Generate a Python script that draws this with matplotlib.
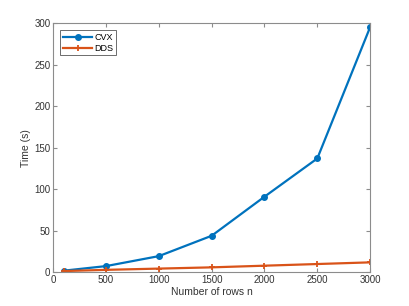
import numpy as np
import matplotlib.pyplot as plt

plt.rcParams['font.family'] = ['Liberation Sans', 'DejaVu Sans']

n_rows = [100, 500, 1000, 1500, 2000, 2500, 3000]
cvx_time = [2, 7.5, 19.5, 44, 91, 137, 295]
dds_time = [1.5, 3, 4.5, 6, 8, 10, 12]

fig = plt.figure(figsize=(4.09, 3.06), dpi=100)
ax = fig.add_axes([0.13, 0.11, 0.775, 0.815])

ax.plot(n_rows, cvx_time, '-o', color='#0072BD', lw=1.6, ms=4, label='CVX')
ax.plot(n_rows, dds_time, '-+', color='#D95319', lw=1.6, ms=5, mew=1.3, label='DDS')

ax.set_xlim(0, 3000)
ax.set_ylim(0, 300)
ax.set_xticks([0, 500, 1000, 1500, 2000, 2500, 3000])
ax.set_yticks([0, 50, 100, 150, 200, 250, 300])
ax.set_xlabel('Number of rows n', fontsize=7.5, color='#333333', labelpad=1)
ax.set_ylabel('Time (s)', fontsize=7.5, color='#333333', labelpad=2)
ax.tick_params(direction='in', length=3, width=0.8, colors='#8c8c8c',
               labelcolor='#333333', labelsize=7, top=True, right=True, pad=2)
for s in ax.spines.values():
    s.set_color('#8c8c8c')
    s.set_linewidth(0.8)

leg = ax.legend(loc='upper left', fontsize=6.5, fancybox=False, framealpha=1,
                edgecolor='#555555', handlelength=3.2, borderpad=0.3,
                labelspacing=0.2, handletextpad=0.3, borderaxespad=0.8)
leg.get_frame().set_linewidth(0.6)

fig.savefig('out.png', dpi=100)
